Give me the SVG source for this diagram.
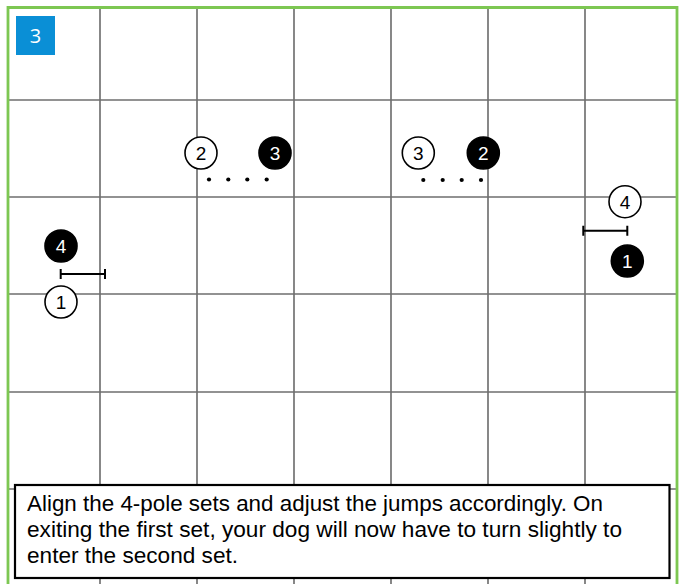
<svg xmlns="http://www.w3.org/2000/svg" width="686" height="584" viewBox="0 0 686 584">
<style>
.gv{stroke:#555;stroke-width:1.4}
.gh{stroke:#6e6e6e;stroke-width:1.4}
.open{fill:#fff;stroke:#000;stroke-width:1.6}
.filled{fill:#000;stroke:#000;stroke-width:1.6}
.lbl{font-family:"Liberation Sans",Arial,sans-serif;font-size:19px;text-anchor:middle}
.lo{fill:#000}
.lf{fill:#fff}
.dot{fill:#000}
.jump{stroke:#000;stroke-width:2;fill:none}
.cap{font-family:"Liberation Sans",Arial,sans-serif;font-size:22px;fill:#000}
</style>
<rect x="0" y="0" width="686" height="584" fill="#fff"/>
<g id="grid">
<line class="gv" x1="100" y1="8" x2="100" y2="584"/>
<line class="gv" x1="197" y1="8" x2="197" y2="584"/>
<line class="gv" x1="294" y1="8" x2="294" y2="584"/>
<line class="gv" x1="391" y1="8" x2="391" y2="584"/>
<line class="gv" x1="488" y1="8" x2="488" y2="584"/>
<line class="gv" x1="585" y1="8" x2="585" y2="584"/>
<line class="gh" x1="8" y1="100" x2="677" y2="100"/>
<line class="gh" x1="8" y1="197" x2="677" y2="197"/>
<line class="gh" x1="8" y1="294" x2="677" y2="294"/>
<line class="gh" x1="8" y1="392" x2="677" y2="392"/>
<line class="gh" x1="8" y1="489" x2="677" y2="489"/>
</g>
<g id="border">
<polyline points="8,584 8,7.5 677,7.5 677,584" fill="none" stroke="#7dc752" stroke-width="2.8"/>
</g>
<g id="badge">
<rect x="16" y="16" width="39" height="39" fill="#0a8fd6"/>
<text x="35.5" y="43" font-family="'Open Sans','Noto Sans',sans-serif" font-size="20" fill="#fff" text-anchor="middle">3</text>
</g>
<g id="set1">
<g id="n2a"><circle class="open" cx="201" cy="153" r="16"/><text class="lbl lo" x="201" y="160">2</text></g>
<g id="n3a"><circle class="filled" cx="275" cy="153" r="16"/><text class="lbl lf" x="275" y="160">3</text></g>
<g id="poles1">
<circle class="dot" cx="209" cy="179.5" r="2.1"/>
<circle class="dot" cx="228.3" cy="179.5" r="2.1"/>
<circle class="dot" cx="247.3" cy="179.5" r="2.1"/>
<circle class="dot" cx="266.7" cy="179.5" r="2.1"/>
</g>
</g>
<g id="set2">
<g id="n3b"><circle class="open" cx="418.3" cy="153" r="16"/><text class="lbl lo" x="418.3" y="160">3</text></g>
<g id="n2b"><circle class="filled" cx="483.3" cy="153" r="16"/><text class="lbl lf" x="483.3" y="160">2</text></g>
<g id="poles2">
<circle class="dot" cx="423.3" cy="180" r="2.1"/>
<circle class="dot" cx="442.7" cy="180" r="2.1"/>
<circle class="dot" cx="461.7" cy="180" r="2.1"/>
<circle class="dot" cx="481" cy="180" r="2.1"/>
</g>
</g>
<g id="jumpLeft">
<g id="n4a"><circle class="filled" cx="61" cy="246" r="16"/><text class="lbl lf" x="61" y="253">4</text></g>
<path class="jump" d="M60.7,274H105M60.7,269V279M105,269V279"/>
<g id="n1a"><circle class="open" cx="61" cy="302" r="16"/><text class="lbl lo" x="61" y="309">1</text></g>
</g>
<g id="jumpRight">
<g id="n4b"><circle class="open" cx="625" cy="201.7" r="16"/><text class="lbl lo" x="625" y="208.7">4</text></g>
<path class="jump" d="M583.3,230.7H627.3M583.3,225.7V235.7M627.3,225.7V235.7"/>
<g id="n1b"><circle class="filled" cx="627.3" cy="261" r="16"/><text class="lbl lf" x="627.3" y="268">1</text></g>
</g>
<g id="caption">
<rect x="15" y="485" width="654.5" height="93" fill="#fff" stroke="#000" stroke-width="2.2"/>
<text class="cap" x="27" y="511" textLength="576" lengthAdjust="spacingAndGlyphs">Align the 4-pole sets and adjust the jumps accordingly. On</text>
<text class="cap" x="27" y="537" textLength="595" lengthAdjust="spacingAndGlyphs">exiting the first set, your dog will now have to turn slightly to</text>
<text class="cap" x="27" y="563" textLength="211" lengthAdjust="spacingAndGlyphs">enter the second set.</text>
</g>
</svg>
